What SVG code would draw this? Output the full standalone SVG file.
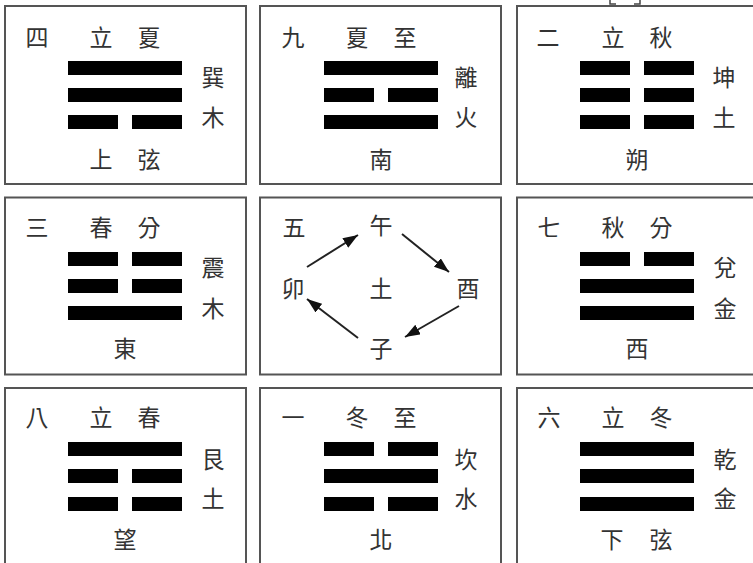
<svg xmlns="http://www.w3.org/2000/svg" width="753" height="563" viewBox="0 0 753 563">
<style>
.box{fill:#fff;stroke:#555;stroke-width:2}
.bar{fill:#000}
.t{font-family:"Noto Sans CJK TC","Noto Sans CJK SC",sans-serif;font-size:23px;fill:#333;text-anchor:middle;dominant-baseline:central}
.arr{stroke:#222;stroke-width:2;fill:none;marker-end:url(#ah)}
</style>
<defs>
<marker id="ah" markerUnits="userSpaceOnUse" markerWidth="16" markerHeight="12" refX="15" refY="5.5" orient="auto">
<path d="M0,0 L15,5.5 L0,11 z" fill="#111"/>
</marker>
<g id="solid"><rect class="bar" x="0" y="0" width="114" height="14"/></g>
<g id="broken"><rect class="bar" x="0" y="0" width="50" height="14"/><rect class="bar" x="64" y="0" width="50" height="14"/></g>
</defs>
<rect width="753" height="563" fill="#fff"/>
<path d="M610,0 V4 H616 M634,4 H640 V0" stroke="#444" stroke-width="1.5" fill="none"/>

<g id="cell-xun">
<rect class="box" x="5" y="6" width="241" height="178"/>
<text class="t" x="37" y="36">四</text><text class="t" x="101" y="36">立</text><text class="t" x="149" y="36">夏</text>
<use href="#solid" x="68" y="61"/><use href="#solid" x="68" y="88"/><use href="#broken" x="68" y="115"/>
<text class="t" x="213" y="76">巽</text><text class="t" x="213" y="116">木</text>
<text class="t" x="101" y="158">上</text><text class="t" x="149" y="158">弦</text>
</g>

<g id="cell-li">
<rect class="box" x="260" y="6" width="241" height="178"/>
<text class="t" x="293" y="36">九</text><text class="t" x="357" y="36">夏</text><text class="t" x="405" y="36">至</text>
<use href="#solid" x="324" y="61"/><use href="#broken" x="324" y="88"/><use href="#solid" x="324" y="115"/>
<text class="t" x="466" y="76">離</text><text class="t" x="466" y="116">火</text>
<text class="t" x="381" y="158">南</text>
</g>

<g id="cell-kun">
<rect class="box" x="517" y="6" width="250" height="178"/>
<text class="t" x="548" y="36">二</text><text class="t" x="613" y="36">立</text><text class="t" x="661" y="36">秋</text>
<use href="#broken" x="580" y="61"/><use href="#broken" x="580" y="88"/><use href="#broken" x="580" y="115"/>
<text class="t" x="724" y="76">坤</text><text class="t" x="724" y="116">土</text>
<text class="t" x="637" y="158">朔</text>
</g>

<g id="cell-zhen">
<rect class="box" x="5" y="197.5" width="241" height="177"/>
<text class="t" x="37" y="226">三</text><text class="t" x="101" y="226">春</text><text class="t" x="149" y="226">分</text>
<use href="#broken" x="68" y="252"/><use href="#broken" x="68" y="279"/><use href="#solid" x="68" y="306"/>
<text class="t" x="213" y="266">震</text><text class="t" x="213" y="307">木</text>
<text class="t" x="125" y="347">東</text>
</g>

<g id="cell-center">
<rect class="box" x="260" y="197.5" width="241" height="177"/>
<text class="t" x="294" y="226">五</text>
<text class="t" x="381" y="224">午</text>
<text class="t" x="293" y="287">卯</text>
<text class="t" x="381" y="287">土</text>
<text class="t" x="468" y="287">酉</text>
<text class="t" x="381" y="347">子</text>
</g>

<g id="cell-dui">
<rect class="box" x="517" y="197.5" width="250" height="177"/>
<text class="t" x="549" y="226">七</text><text class="t" x="613" y="226">秋</text><text class="t" x="661" y="226">分</text>
<use href="#broken" x="580" y="252"/><use href="#solid" x="580" y="279"/><use href="#solid" x="580" y="306"/>
<text class="t" x="725" y="266">兌</text><text class="t" x="725" y="307">金</text>
<text class="t" x="637" y="347">西</text>
</g>

<g id="cell-gen">
<rect class="box" x="5" y="388" width="241" height="190"/>
<text class="t" x="37" y="416">八</text><text class="t" x="101" y="416">立</text><text class="t" x="149" y="416">春</text>
<use href="#solid" x="68" y="442"/><use href="#broken" x="68" y="469"/><use href="#broken" x="68" y="497"/>
<text class="t" x="213" y="458">艮</text><text class="t" x="213" y="497">土</text>
<text class="t" x="125" y="538">望</text>
</g>

<g id="cell-kan">
<rect class="box" x="260" y="388" width="241" height="190"/>
<text class="t" x="293" y="416">一</text><text class="t" x="357" y="416">冬</text><text class="t" x="405" y="416">至</text>
<use href="#broken" x="324" y="442"/><use href="#solid" x="324" y="469"/><use href="#broken" x="324" y="497"/>
<text class="t" x="466" y="458">坎</text><text class="t" x="466" y="497">水</text>
<text class="t" x="381" y="538">北</text>
</g>

<g id="cell-qian">
<rect class="box" x="517" y="388" width="250" height="190"/>
<text class="t" x="549" y="416">六</text><text class="t" x="613" y="416">立</text><text class="t" x="661" y="416">冬</text>
<use href="#solid" x="580" y="442"/><use href="#solid" x="580" y="469"/><use href="#solid" x="580" y="497"/>
<text class="t" x="725" y="458">乾</text><text class="t" x="725" y="497">金</text>
<text class="t" x="612" y="538">下</text><text class="t" x="661" y="538">弦</text>
</g>

<g id="connectors">
<line class="arr" x1="307" y1="267" x2="358" y2="235"/>
<line class="arr" x1="402" y1="234" x2="449" y2="272"/>
<line class="arr" x1="459" y1="306" x2="405" y2="337"/>
<line class="arr" x1="358" y1="338" x2="307" y2="299"/>
</g>
</svg>
